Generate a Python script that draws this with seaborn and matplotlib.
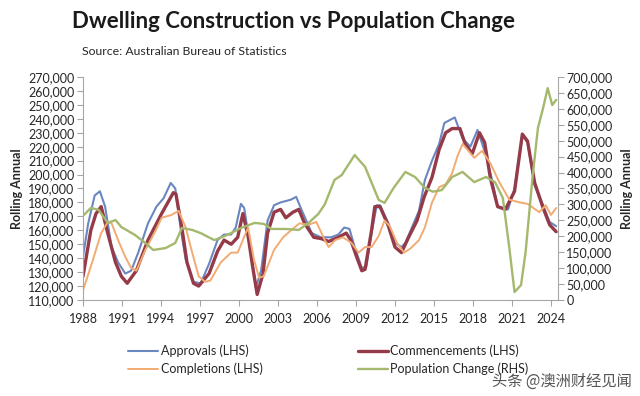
import numpy as np
import pandas as pd
import matplotlib.pyplot as plt
import seaborn as sns
from matplotlib.ticker import FuncFormatter, MultipleLocator

# ============================================================
# DATA (thousands)
# ============================================================
appr_yr = [1988.0, 1988.4, 1988.9, 1989.3, 1989.7, 1990.2, 1990.7, 1991.25, 1991.7, 1992.25,
           1993.0, 1993.65, 1994.2, 1994.75, 1995.1, 1995.5, 1995.9, 1996.5, 1997.05, 1997.7,
           1998.35, 1998.85, 1999.4, 1999.75, 2000.15, 2000.4, 2000.9, 2001.3, 2001.7, 2002.2,
           2002.7, 2003.2, 2003.6, 2004.0, 2004.4, 2004.8, 2005.6, 2006.3, 2007.1, 2007.65,
           2008.1, 2008.5, 2008.9, 2009.45, 2009.8, 2010.2, 2010.6, 2010.85, 2011.5, 2012.0,
           2012.5, 2012.8, 2013.3, 2013.85, 2014.3, 2014.85, 2015.4, 2015.8, 2016.2, 2016.6,
           2017.2, 2017.8, 2018.35, 2019.0, 2019.5, 2019.9, 2020.7, 2021.2, 2021.8, 2022.2,
           2022.75, 2023.4, 2023.9, 2024.4]
approvals = [141, 165, 185, 188, 177, 148, 137, 129, 131, 144,
             165, 177, 183, 194, 190, 162, 139, 123, 122, 136,
             153, 157, 157, 162, 179, 176, 146, 119, 131, 167,
             178, 180, 181, 182, 184, 175, 158, 155, 155, 157,
             162, 161, 148, 133, 134, 158, 178, 178, 165, 151,
             148, 151, 162, 174, 196, 210, 222, 237, 239, 241,
             226, 220, 232, 214, 195, 177, 175, 190, 228, 223,
             192, 178, 166, 163]

comm_yr = [1988.0, 1988.6, 1989.0, 1989.4, 1989.9, 1990.5, 1990.95, 1991.4, 1992.1, 1993.0,
           1994.05, 1994.95, 1995.15, 1995.6, 1996.0, 1996.5, 1996.9, 1997.7, 1998.35, 1998.85,
           1999.4, 1999.9, 2000.3, 2000.7, 2001.05, 2001.4, 2001.85, 2002.2, 2002.7, 2003.2,
           2003.6, 2004.15, 2004.6, 2005.05, 2005.75, 2006.35, 2006.9, 2007.65, 2008.25, 2008.6,
           2009.05, 2009.45, 2009.7, 2010.2, 2010.45, 2010.85, 2011.5, 2012.0, 2012.5, 2013.05,
           2013.7, 2014.25, 2014.85, 2015.4, 2015.9, 2016.4, 2017.0, 2017.4, 2017.95, 2018.5,
           2018.9, 2019.35, 2019.9, 2020.5, 2021.2, 2021.8, 2022.2, 2022.75, 2023.4, 2023.9,
           2024.4]
commencements = [127, 160, 172, 177, 158, 137, 127, 122, 131, 153,
                 172, 187, 186, 162, 137, 122, 120, 129, 145, 153,
                 150, 155, 172, 156, 134, 114, 129, 158, 173, 175,
                 169, 173, 175, 165, 155, 154, 152, 155, 158, 153,
                 141, 131, 132, 160, 177, 177, 163, 148, 144, 155,
                 167, 184, 198, 218, 230, 233, 233, 222, 215, 230,
                 223, 197, 177, 175, 188, 229, 224, 194, 176, 164,
                 159]

comp_yr = [1988.0, 1988.6, 1989.4, 1989.9, 1990.2, 1990.7, 1991.25, 1991.7, 1992.1, 1992.8,
           1993.6, 1994.05, 1994.8, 1995.35, 1995.9, 1996.4, 1996.9, 1997.4, 1997.8, 1998.6,
           1999.4, 1999.9, 2000.3, 2000.7, 2001.15, 2001.55, 2001.9, 2002.7, 2003.4, 2004.0,
           2004.65, 2005.35, 2005.95, 2006.6, 2006.9, 2007.4, 2008.0, 2008.65, 2009.2, 2009.7,
           2010.2, 2010.75, 2011.2, 2011.6, 2012.15, 2012.7, 2013.2, 2013.85, 2014.3, 2014.85,
           2015.4, 2015.9, 2016.4, 2016.8, 2017.2, 2018.1, 2018.7, 2019.35, 2020.0, 2020.8,
           2021.6, 2022.2, 2023.1, 2023.6, 2024.0, 2024.4]
completions = [117, 134, 158, 166, 165, 153, 141, 133, 131, 146,
               160, 169, 171, 174, 162, 144, 127, 123, 124, 137,
               144, 144, 153, 162, 139, 126, 127, 146, 155, 160,
               165, 164, 166, 153, 148, 153, 155, 151, 144, 148,
               148, 156, 167, 163, 151, 144, 147, 153, 162, 180,
               191, 193, 201, 213, 222, 212, 217, 208, 195, 182,
               180, 179, 173, 178, 171, 176]

pop_yr = [1988.0, 1988.6, 1989.2, 1989.9, 1990.5, 1990.95, 1992.0, 1992.8, 1993.4, 1994.35,
          1995.1, 1995.6, 1996.4, 1997.05, 1998.1, 1999.1, 2000.15, 2001.2, 2001.9, 2002.5,
          2003.6, 2004.6, 2005.35, 2006.1, 2006.6, 2007.35, 2007.9, 2008.9, 2009.7, 2010.75,
          2011.2, 2011.9, 2012.8, 2013.55, 2014.3, 2014.9, 2015.6, 2016.4, 2017.2, 2018.1,
          2019.0, 2019.7, 2020.3, 2020.8, 2021.2, 2021.7, 2022.05, 2022.6, 2023.0, 2023.4,
          2023.75, 2024.1, 2024.4]
population = [264, 289, 283, 242, 251, 229, 204, 179, 157, 163,
              179, 226, 220, 210, 188, 204, 226, 242, 239, 223,
              223, 220, 242, 270, 300, 377, 392, 455, 418, 314,
              305, 352, 402, 386, 352, 340, 345, 386, 402, 370,
              386, 370, 320, 163, 25, 47, 150, 392, 540, 603,
              665, 612, 628]

year_ticks = list(range(1988, 2025, 3))

# ============================================================
# STYLE
# ============================================================
sns.set_style("white")
plt.rcParams['font.family'] = ['Lato', 'DejaVu Sans']
plt.rcParams['axes.edgecolor'] = '#a6a6a6'

c_appr = '#6a87bf'
c_comm = '#953a48'
c_comp = '#f2ab72'
c_pop = '#a4b96d'

fig = plt.figure(figsize=(6.4, 3.96), dpi=100)
ax = fig.add_axes([0.1297, 0.2424, 0.872 - 0.1297, 0.8056 - 0.2424])
ax2 = ax.twinx()

# lines
sns.lineplot(x=appr_yr, y=[v * 1000 for v in approvals], ax=ax,
             color=c_appr, lw=1.5, label='Approvals (LHS)', legend=False)
sns.lineplot(x=comm_yr, y=[v * 1000 for v in commencements], ax=ax,
             color=c_comm, lw=2.4, label='Commencements (LHS)', legend=False)
sns.lineplot(x=comp_yr, y=[v * 1000 for v in completions], ax=ax,
             color=c_comp, lw=1.4, label='Completions (LHS)', legend=False)
sns.lineplot(x=pop_yr, y=[v * 1000 for v in population], ax=ax2,
             color=c_pop, lw=1.7, label='Population Change (RHS)', legend=False)

# axes
ax.set_xlim(1988, 2024.55)
ax.set_ylim(110000, 270000)
ax2.set_ylim(0, 700000)
ax.set_xticks(year_ticks)
ax.set_xticklabels([str(y) for y in year_ticks])
ax.yaxis.set_major_locator(MultipleLocator(10000))
ax2.yaxis.set_major_locator(MultipleLocator(50000))
fmt = FuncFormatter(lambda v, p: f'{int(v):,}')
ax.yaxis.set_major_formatter(fmt)
ax2.yaxis.set_major_formatter(fmt)

for a in (ax, ax2):
    a.spines['top'].set_visible(False)
    a.tick_params(axis='both', labelsize=9, colors='#a6a6a6', labelcolor='#262626',
                  length=4, width=0.8, direction='out')
ax.spines['right'].set_visible(False)
ax2.spines['left'].set_visible(False)
ax2.spines['bottom'].set_visible(False)
ax.tick_params(axis='y', left=True, pad=2)
ax.tick_params(axis='x', bottom=True, pad=5)
ax2.tick_params(axis='y', right=True, pad=2)

ax.set_ylabel('Rolling Annual', fontsize=9, fontweight='bold', color='#262626', labelpad=4)
ax2.set_ylabel('Rolling Annual', fontsize=9, fontweight='bold', color='#262626', labelpad=6)
ax.set_xlabel('')

# title
fig.text(0.113, 0.945, 'Dwelling Construction vs Population Change', fontsize=16,
         fontweight='bold', color='#1a1a1a', va='center', ha='left')
fig.text(0.128, 0.87, 'Source: Australian Bureau of Statistics', fontsize=8.8,
         color='#262626', va='center', ha='left')

# legend (column-major fill: rows are Approvals/Commencements, Completions/Population)
lines = ax.get_lines()[:3] + ax2.get_lines()[:1]
order = [0, 2, 1, 3]
fig.legend([lines[i] for i in order], [lines[i].get_label() for i in order],
           ncol=2, loc='center', bbox_to_anchor=(0.513, 0.091), frameon=False, fontsize=9,
           handlelength=2.4, handletextpad=0.2, columnspacing=7.6, labelspacing=0.45)

# watermark
fig.text(0.988, 0.038, '头条 @澳洲财经见闻', fontsize=11, color='#555555', ha='right',
         va='center', family=['Noto Sans CJK SC', 'DejaVu Sans'])

plt.savefig('out.png', dpi=100)
